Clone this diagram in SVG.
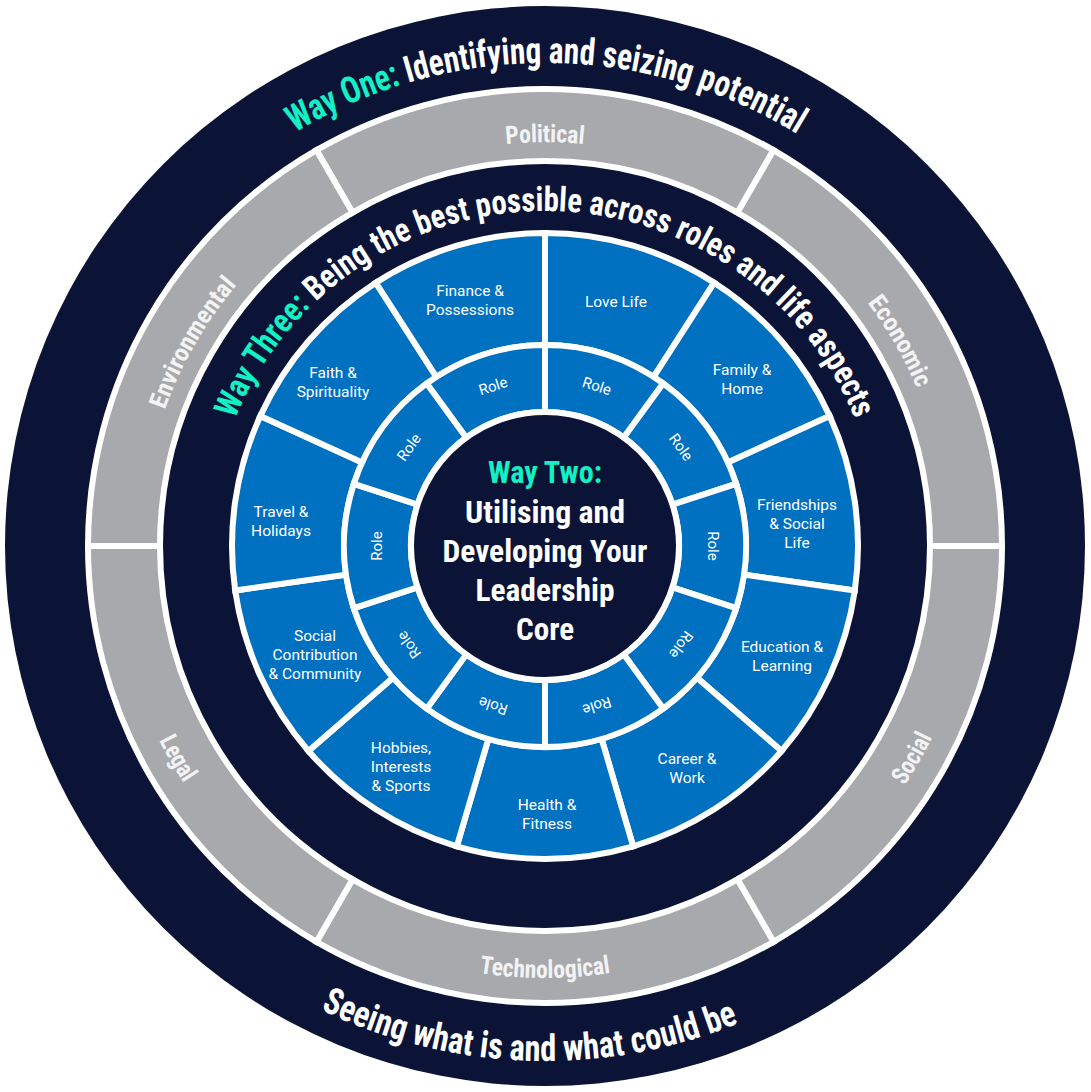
<svg xmlns="http://www.w3.org/2000/svg" width="1091" height="1092" viewBox="0 0 1091 1092">
<defs>
<style>
.navy{fill:#0b1437}
.grey{fill:#a7a9ac;stroke:#fff;stroke-width:6}
.blue{fill:#0070c0;stroke:#fff;stroke-width:6}
.cond{font-family:Roboto,"Liberation Sans",sans-serif;font-weight:700;font-stretch:condensed}
.lbl{font-family:Roboto,"Liberation Sans",sans-serif;font-size:15.5px;fill:#fff;text-anchor:middle}
.role{font-family:Roboto,"Liberation Sans",sans-serif;font-size:15px;fill:#fff;text-anchor:middle;dominant-baseline:central}
.teal{fill:#14efc4}
.wt{fill:#fff}
.gl{font-size:25px;fill:#f3f3f3;text-anchor:middle}
</style>
<path id="pOne" d="M 62 546 A 483 483 0 0 1 1028 546"/>
<path id="pSee" d="M 30 546 A 515 515 0 0 0 1060 546"/>
<path id="pThree" d="M 210 546 A 335 335 0 0 1 880 546"/>
<path id="pGT" d="M 141 546 A 404 404 0 0 1 949 546"/>
<path id="pGB" d="M 113 546 A 432 432 0 0 0 977 546"/>
</defs>

<g id="outer-ring">
<circle cx="545" cy="546" r="540" class="navy"/>
<text class="cond" font-size="37" text-anchor="middle"><textPath href="#pOne" startOffset="760" textLength="528" lengthAdjust="spacingAndGlyphs"><tspan class="teal">Way One:</tspan><tspan class="wt"> Identifying and seizing potential</tspan></textPath></text>
<text class="cond wt" font-size="37" text-anchor="middle"><textPath href="#pSee" startOffset="792" textLength="431" lengthAdjust="spacingAndGlyphs">Seeing what is and what could be</textPath></text>
</g>

<g id="political"><path class="grey" d="M 316.5 150.2 A 457 457 0 0 1 773.5 150.2 L 737.5 212.6 A 385 385 0 0 0 352.5 212.6 Z"/>
<text class="cond gl"><textPath href="#pGT" startOffset="50%" textLength="78" lengthAdjust="spacingAndGlyphs">Political</textPath></text></g>
<g id="economic"><path class="grey" d="M 773.5 150.2 A 457 457 0 0 1 1002 546 L 930 546 A 385 385 0 0 0 737.5 212.6 Z"/>
<text class="cond gl" transform="rotate(60 545 546)"><textPath href="#pGT" startOffset="50%" textLength="100" lengthAdjust="spacingAndGlyphs">Economic</textPath></text></g>
<g id="social"><path class="grey" d="M 1002 546 A 457 457 0 0 1 773.5 941.8 L 737.5 879.4 A 385 385 0 0 0 930 546 Z"/>
<text class="cond gl" transform="rotate(-60 545 546)"><textPath href="#pGB" startOffset="50%" textLength="56" lengthAdjust="spacingAndGlyphs">Social</textPath></text></g>
<g id="technological"><path class="grey" d="M 773.5 941.8 A 457 457 0 0 1 316.5 941.8 L 352.5 879.4 A 385 385 0 0 0 737.5 879.4 Z"/>
<text class="cond gl"><textPath href="#pGB" startOffset="50%" textLength="132" lengthAdjust="spacingAndGlyphs">Technological</textPath></text></g>
<g id="legal"><path class="grey" d="M 316.5 941.8 A 457 457 0 0 1 88 546 L 160 546 A 385 385 0 0 0 352.5 879.4 Z"/>
<text class="cond gl" transform="rotate(60 545 546)"><textPath href="#pGB" startOffset="50%" textLength="50" lengthAdjust="spacingAndGlyphs">Legal</textPath></text></g>
<g id="environmental"><path class="grey" d="M 88 546 A 457 457 0 0 1 316.5 150.2 L 352.5 212.6 A 385 385 0 0 0 160 546 Z"/>
<text class="cond gl" transform="rotate(-60 545 546)"><textPath href="#pGT" startOffset="50%" textLength="145" lengthAdjust="spacingAndGlyphs">Environmental</textPath></text></g>

<g id="way-three-label">
<text class="cond" font-size="34" text-anchor="middle"><textPath href="#pThree" startOffset="50%" textLength="792" lengthAdjust="spacingAndGlyphs"><tspan class="teal">Way Three:</tspan><tspan class="wt"> Being the best possible across roles and life aspects</tspan></textPath></text>
</g>

<g id="love-life"><path class="blue" d="M 545 233 A 313 313 0 0 1 714.22 282.69 L 653.67 376.91 A 201 201 0 0 0 545 345 Z"/>
<text class="lbl" x="616" y="306.5">Love Life</text></g>
<g id="family-home"><path class="blue" d="M 714.22 282.69 A 313 313 0 0 1 829.71 415.97 L 727.84 462.5 A 201 201 0 0 0 653.67 376.91 Z"/>
<text class="lbl" x="742" y="374.5">Family &amp;</text><text class="lbl" x="742" y="393.5">Home</text></g>
<g id="friendships"><path class="blue" d="M 829.71 415.97 A 313 313 0 0 1 854.81 590.54 L 743.95 574.6 A 201 201 0 0 0 727.84 462.5 Z"/>
<text class="lbl" x="797" y="509.5">Friendships</text><text class="lbl" x="797" y="528.5">&amp; Social</text><text class="lbl" x="797" y="547.5">Life</text></g>
<g id="education"><path class="blue" d="M 854.81 590.54 A 313 313 0 0 1 781.55 750.97 L 696.91 677.63 A 201 201 0 0 0 743.95 574.6 Z"/>
<text class="lbl" x="782" y="651.5">Education &amp;</text><text class="lbl" x="782" y="670.5">Learning</text></g>
<g id="career"><path class="blue" d="M 781.55 750.97 A 313 313 0 0 1 633.18 846.32 L 601.63 738.86 A 201 201 0 0 0 696.91 677.63 Z"/>
<text class="lbl" x="687" y="763.5">Career &amp;</text><text class="lbl" x="687" y="782.5">Work</text></g>
<g id="health"><path class="blue" d="M 633.18 846.32 A 313 313 0 0 1 456.82 846.32 L 488.37 738.86 A 201 201 0 0 0 601.63 738.86 Z"/>
<text class="lbl" x="547" y="809.5">Health &amp;</text><text class="lbl" x="547" y="828.5">Fitness</text></g>
<g id="hobbies"><path class="blue" d="M 456.82 846.32 A 313 313 0 0 1 308.45 750.97 L 393.09 677.63 A 201 201 0 0 0 488.37 738.86 Z"/>
<text class="lbl" x="401" y="752.5">Hobbies,</text><text class="lbl" x="401" y="771.5">Interests</text><text class="lbl" x="401" y="790.5">&amp; Sports</text></g>
<g id="social-contribution"><path class="blue" d="M 308.45 750.97 A 313 313 0 0 1 235.19 590.54 L 346.05 574.6 A 201 201 0 0 0 393.09 677.63 Z"/>
<text class="lbl" x="315" y="640.5">Social</text><text class="lbl" x="315" y="659.5">Contribution</text><text class="lbl" x="315" y="678.5">&amp; Community</text></g>
<g id="travel"><path class="blue" d="M 235.19 590.54 A 313 313 0 0 1 260.29 415.97 L 362.16 462.5 A 201 201 0 0 0 346.05 574.6 Z"/>
<text class="lbl" x="281" y="516.5">Travel &amp;</text><text class="lbl" x="281" y="535.5">Holidays</text></g>
<g id="faith"><path class="blue" d="M 260.29 415.97 A 313 313 0 0 1 375.78 282.69 L 436.33 376.91 A 201 201 0 0 0 362.16 462.5 Z"/>
<text class="lbl" x="333" y="377.5">Faith &amp;</text><text class="lbl" x="333" y="396.5">Spirituality</text></g>
<g id="finance"><path class="blue" d="M 375.78 282.69 A 313 313 0 0 1 545 233 L 545 345 A 201 201 0 0 0 436.33 376.91 Z"/>
<text class="lbl" x="470" y="295.5">Finance &amp;</text><text class="lbl" x="470" y="314.5">Possessions</text></g>

<g id="role-1"><path class="blue" d="M 545 345 A 201 201 0 0 1 663.15 383.39 L 623.76 437.59 A 134 134 0 0 0 545 412 Z"/>
<text class="role" x="596.9" y="386.2" transform="rotate(18 596.9 386.2)">Role</text></g>
<g id="role-2"><path class="blue" d="M 663.15 383.39 A 201 201 0 0 1 736.16 483.89 L 672.44 504.59 A 134 134 0 0 0 623.76 437.59 Z"/>
<text class="role" x="680.9" y="447.3" transform="rotate(54 680.9 447.3)">Role</text></g>
<g id="role-3"><path class="blue" d="M 736.16 483.89 A 201 201 0 0 1 736.16 608.11 L 672.44 587.41 A 134 134 0 0 0 672.44 504.59 Z"/>
<text class="role" x="713" y="546" transform="rotate(90 713 546)">Role</text></g>
<g id="role-4"><path class="blue" d="M 736.16 608.11 A 201 201 0 0 1 663.15 708.61 L 623.76 654.41 A 134 134 0 0 0 672.44 587.41 Z"/>
<text class="role" x="680.9" y="644.7" transform="rotate(126 680.9 644.7)">Role</text></g>
<g id="role-5"><path class="blue" d="M 663.15 708.61 A 201 201 0 0 1 545 747 L 545 680 A 134 134 0 0 0 623.76 654.41 Z"/>
<text class="role" x="596.9" y="705.8" transform="rotate(162 596.9 705.8)">Role</text></g>
<g id="role-6"><path class="blue" d="M 545 747 A 201 201 0 0 1 426.85 708.61 L 466.24 654.41 A 134 134 0 0 0 545 680 Z"/>
<text class="role" x="493.1" y="705.8" transform="rotate(198 493.1 705.8)">Role</text></g>
<g id="role-7"><path class="blue" d="M 426.85 708.61 A 201 201 0 0 1 353.84 608.11 L 417.56 587.41 A 134 134 0 0 0 466.24 654.41 Z"/>
<text class="role" x="409.1" y="644.7" transform="rotate(234 409.1 644.7)">Role</text></g>
<g id="role-8"><path class="blue" d="M 353.84 608.11 A 201 201 0 0 1 353.84 483.89 L 417.56 504.59 A 134 134 0 0 0 417.56 587.41 Z"/>
<text class="role" x="377" y="546" transform="rotate(270 377 546)">Role</text></g>
<g id="role-9"><path class="blue" d="M 353.84 483.89 A 201 201 0 0 1 426.85 383.39 L 466.24 437.59 A 134 134 0 0 0 417.56 504.59 Z"/>
<text class="role" x="409.1" y="447.3" transform="rotate(306 409.1 447.3)">Role</text></g>
<g id="role-10"><path class="blue" d="M 426.85 383.39 A 201 201 0 0 1 545 345 L 545 412 A 134 134 0 0 0 466.24 437.59 Z"/>
<text class="role" x="493.1" y="386.2" transform="rotate(342 493.1 386.2)">Role</text></g>

<g id="way-two-core">
<circle cx="545" cy="546" r="134" fill="#0b1437" stroke="#fff" stroke-width="6"/>
<text class="cond teal" font-size="31" x="545" y="483" text-anchor="middle" textLength="114" lengthAdjust="spacingAndGlyphs">Way Two:</text>
<text class="cond wt" font-size="31" x="545" y="523" text-anchor="middle" textLength="160" lengthAdjust="spacingAndGlyphs">Utilising and</text>
<text class="cond wt" font-size="31" x="545" y="562" text-anchor="middle" textLength="205" lengthAdjust="spacingAndGlyphs">Developing Your</text>
<text class="cond wt" font-size="31" x="545" y="601" text-anchor="middle" textLength="139" lengthAdjust="spacingAndGlyphs">Leadership</text>
<text class="cond wt" font-size="31" x="545" y="640" text-anchor="middle" textLength="58" lengthAdjust="spacingAndGlyphs">Core</text>
</g>
</svg>
